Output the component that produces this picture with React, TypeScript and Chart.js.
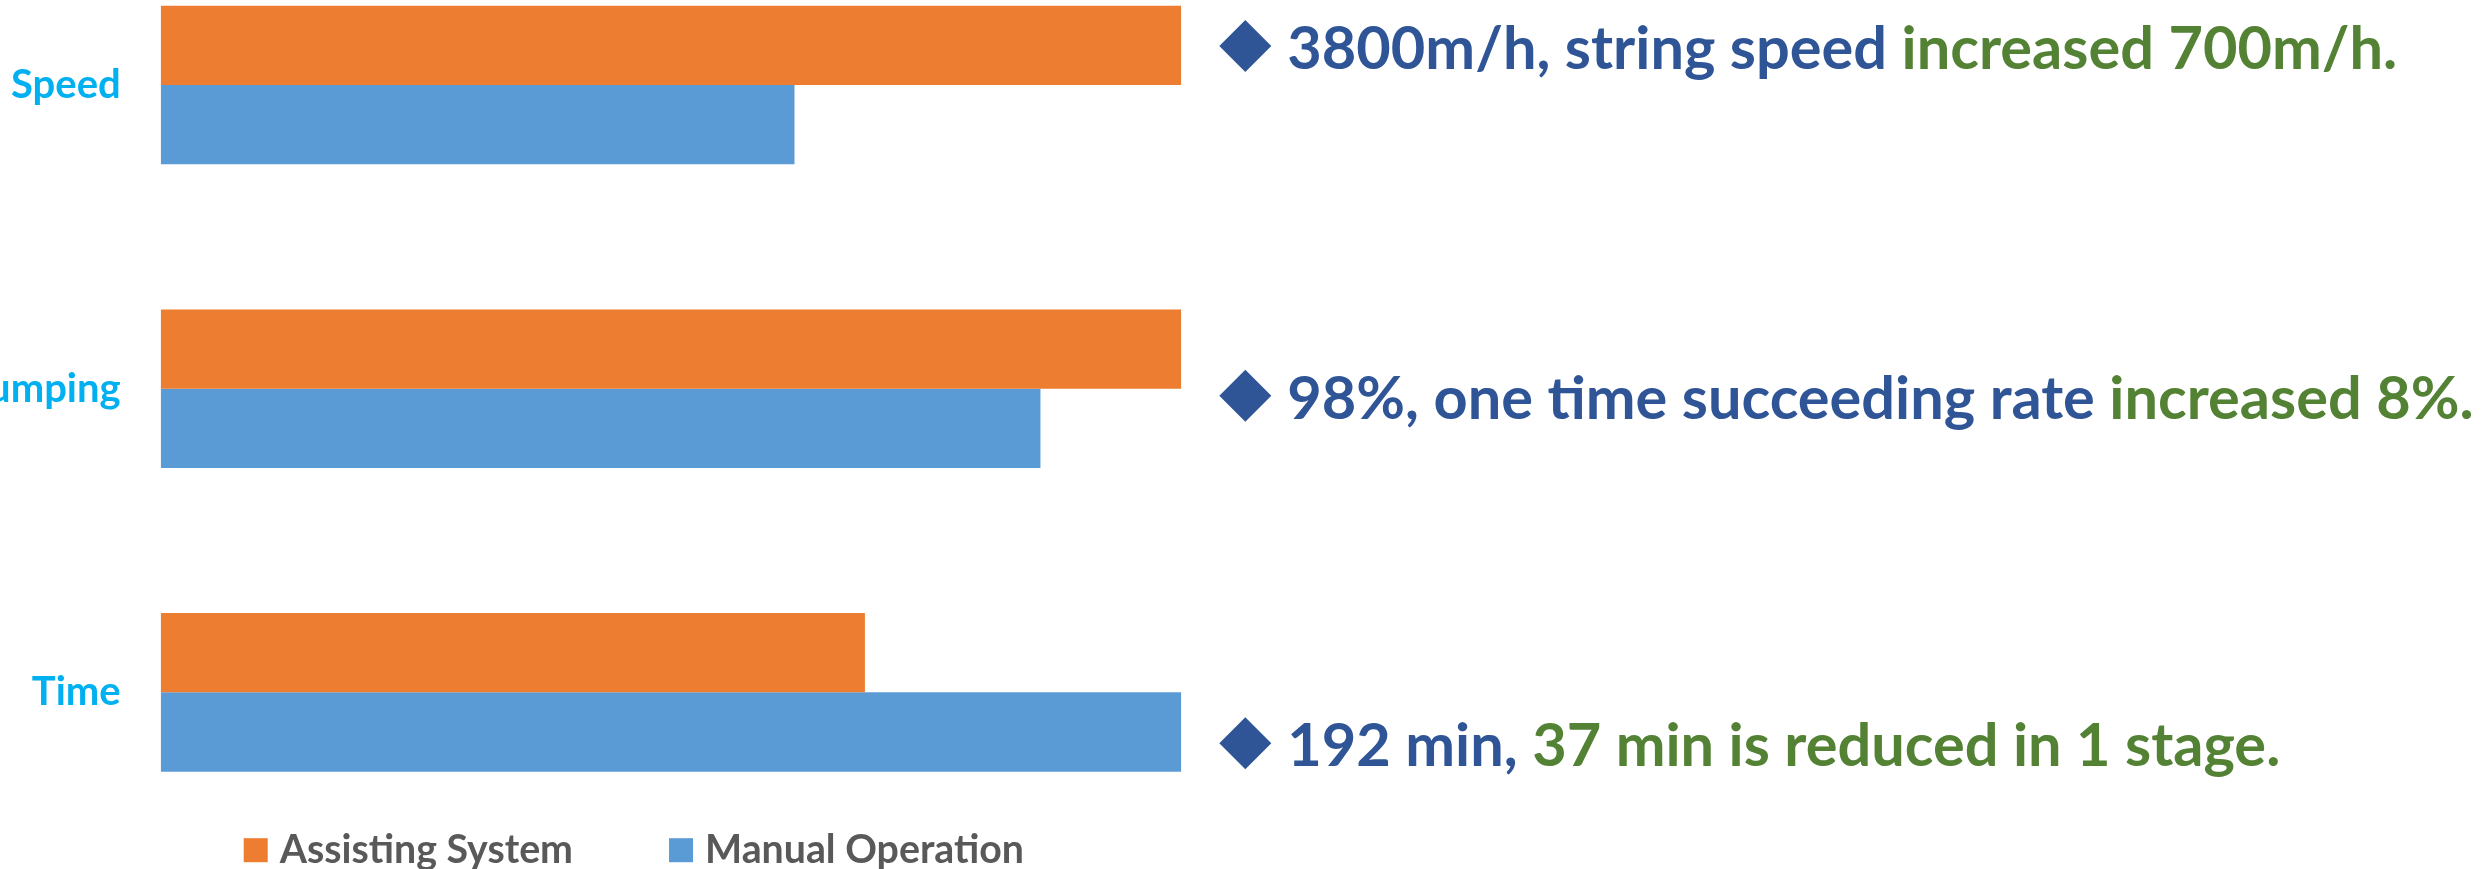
import { useEffect, useRef } from "react";
import { Chart, registerables } from "chart.js";

Chart.register(...registerables);

// Categories along the bar axis
const categories = ["Speed", "Pumping", "Time"];
// Relative scores (best of the two = 100)
const assistingValues = [100, 100, 69.0];
const manualValues = [62.1, 86.2, 100];
const seriesNames = ["Assisting System", "Manual Operation"];

// Notes printed to the right of each category
const noteLeads = ["3800m/h, string speed ", "98%, one time succeeding rate ", "192 min, "];
const noteTails = ["increased 700m/h.", "increased 8%.", "37 min is reduced in 1 stage."];

const ORANGE = "#ED7D31";
const BLUE = "#5B9BD5";
const NAVY = "#2F5597";
const GREEN = "#548235";
const CYAN = "#00B0F0";
const GRAY = "#595959";
const FONT = "Lato, 'Open Sans', sans-serif";

// Canvas is larger than the view and shifted so the plot is cropped at top/left
const SHIFT_X = 60;
const SHIFT_Y = 100;
const VIEW_W = 2489;
const VIEW_H = 869;
const CANVAS_W = VIEW_W + SHIFT_X;
const CANVAS_H = VIEW_H + SHIFT_Y;

// Vertical nudge of each note relative to its category centre
const noteShift = [-39, 7, 51];

const notesAndLegend = {
  id: "notesAndLegend",
  afterDraw(chart: any) {
    const ctx: CanvasRenderingContext2D = chart.ctx;
    const yScale = chart.scales.y;
    const area = chart.chartArea;
    ctx.save();

    // Notes with diamond bullets
    ctx.font = `bold 59.5px ${FONT}`;
    ctx.textBaseline = "alphabetic";
    categories.forEach((_, i) => {
      const cy = yScale.getPixelForValue(i) + noteShift[i];
      const dx = area.right + 64;
      ctx.fillStyle = NAVY;
      ctx.beginPath();
      ctx.moveTo(dx, cy - 26);
      ctx.lineTo(dx + 26, cy);
      ctx.lineTo(dx, cy + 26);
      ctx.lineTo(dx - 26, cy);
      ctx.closePath();
      ctx.fill();
      let tx = dx + 42;
      const by = cy + 23;
      ctx.fillStyle = NAVY;
      ctx.fillText(noteLeads[i], tx, by);
      tx += ctx.measureText(noteLeads[i]).width;
      ctx.fillStyle = GREEN;
      ctx.fillText(noteTails[i], tx, by);
    });

    // Legend below the plot
    ctx.font = `bold 39.3px ${FONT}`;
    let lx = area.left + 83;
    const ly = area.bottom + 6;
    chart.data.datasets.forEach((ds: any) => {
      ctx.fillStyle = ds.backgroundColor;
      ctx.fillRect(lx, ly - 12, 24, 24);
      ctx.fillStyle = GRAY;
      ctx.fillText(ds.label, lx + 36, ly + 13);
      lx += 36 + ctx.measureText(ds.label).width + 96;
    });

    ctx.restore();
  },
};

export default function App() {
  const canvasRef = useRef<HTMLCanvasElement | null>(null);

  useEffect(() => {
    if (!canvasRef.current) return;
    const chart = new Chart(canvasRef.current, {
      type: "bar",
      data: {
        labels: categories,
        datasets: [
          {
            label: seriesNames[0],
            data: assistingValues,
            backgroundColor: ORANGE,
            borderWidth: 0,
            categoryPercentage: 0.5223,
            barPercentage: 1,
          },
          {
            label: seriesNames[1],
            data: manualValues,
            backgroundColor: BLUE,
            borderWidth: 0,
            categoryPercentage: 0.5223,
            barPercentage: 1,
          },
        ],
      },
      options: {
        indexAxis: "y",
        responsive: false,
        animation: false,
        devicePixelRatio: 1,
        layout: {
          padding: { left: 40.7, right: CANVAS_W - 1241.3, top: 33.2, bottom: 24.8 },
        },
        scales: {
          x: { display: false, min: 0, max: 100 },
          y: {
            type: "category",
            offset: true,
            grid: { display: false, drawTicks: false },
            border: { display: false },
            ticks: {
              color: CYAN,
              padding: 40,
              font: { family: FONT, weight: "bold", size: 40 },
            },
            afterFit(scale: any) {
              scale.width = 180;
              // labels sit inside their bands, so no extra room above/below
              scale.paddingTop = 0;
              scale.paddingBottom = 0;
            },
          },
        },
        plugins: {
          legend: { display: false },
          tooltip: { enabled: false },
        },
      },
      plugins: [notesAndLegend],
    });
    return () => chart.destroy();
  }, []);

  return (
    <div
      style={{
        position: "fixed",
        left: 0,
        top: 0,
        width: VIEW_W,
        height: VIEW_H,
        overflow: "hidden",
        background: "#ffffff",
      }}
    >
      <canvas
        ref={canvasRef}
        width={CANVAS_W}
        height={CANVAS_H}
        style={{ position: "absolute", left: -SHIFT_X, top: -SHIFT_Y }}
      />
    </div>
  );
}
